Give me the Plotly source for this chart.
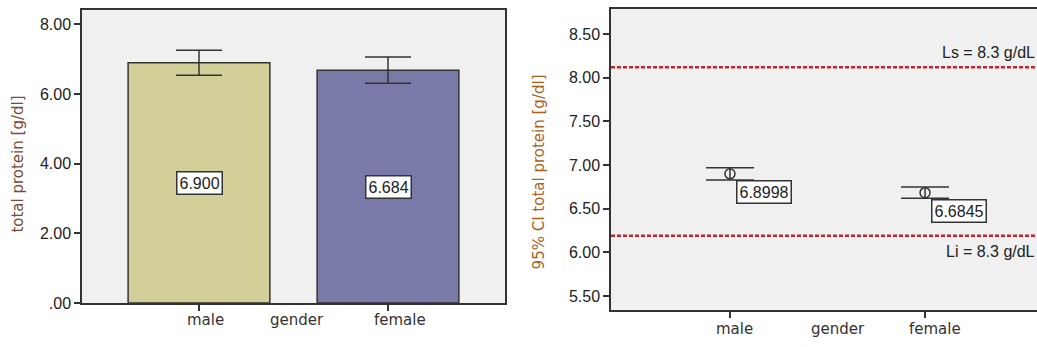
import plotly.graph_objects as go

# ---------------- data ----------------
categories = ["male", "female"]
axis_title_x = "gender"

mean_protein = [6.900, 6.684]
bar_err_low = [6.54, 6.31]
bar_err_high = [7.26, 7.06]
bar_labels = ["6.900", "6.684"]
bar_colors = ["#d3cf98", "#7a7aa8"]

ci_mean = [6.8998, 6.6845]
ci_low = [6.83, 6.62]
ci_high = [6.97, 6.75]
ci_labels = ["6.8998", "6.6845"]

ref_upper = 8.12
ref_lower = 6.19
ref_upper_label = "Ls = 8.3 g/dL"
ref_lower_label = "Li = 8.3 g/dL"

left_yticks = [0, 2, 4, 6, 8]
left_yticktext = [".00", "2.00", "4.00", "6.00", "8.00"]
right_yticks = [5.5, 6.0, 6.5, 7.0, 7.5, 8.0, 8.5]
right_yticktext = ["5.50", "6.00", "6.50", "7.00", "7.50", "8.00", "8.50"]

left_ytitle = "total protein [g/dl]"
right_ytitle = "95% CI total protein [g/dl]"

# ---------------- layout helpers ----------------
W, H = 1037, 347
def px(x):
    return x / W
def py(y):
    return (H - y) / H

AX = "#333333"
TICKFONT = dict(family="Liberation Sans, Arial, sans-serif", size=16, color="#222222")
CATFONT = dict(family="DejaVu Sans, sans-serif", size=15, color="#333333")

fig = go.Figure()

# Left: bar chart with error bars
fig.add_trace(go.Bar(
    x=categories, y=mean_protein, width=0.75,
    marker=dict(color=bar_colors, line=dict(color=AX, width=1.5)),
    error_y=dict(type="data", symmetric=False,
                 array=[h - m for h, m in zip(bar_err_high, mean_protein)],
                 arrayminus=[m - l for m, l in zip(mean_protein, bar_err_low)],
                 color=AX, thickness=1.5, width=23),
    xaxis="x", yaxis="y", showlegend=False, hoverinfo="skip",
))

# Right: mean with 95% CI
fig.add_trace(go.Scatter(
    x=categories, y=ci_mean, mode="markers",
    marker=dict(symbol="circle-open", size=10, color=AX, line=dict(width=1.5, color=AX)),
    error_y=dict(type="data", symmetric=False,
                 array=[h - m for h, m in zip(ci_high, ci_mean)],
                 arrayminus=[m - l for m, l in zip(ci_mean, ci_low)],
                 color=AX, thickness=1.5, width=24),
    xaxis="x2", yaxis="y2", showlegend=False, hoverinfo="skip",
))

annotations = []
# bar value labels
for c, m, t in zip(categories, mean_protein, bar_labels):
    annotations.append(dict(x=c, y=m / 2, xref="x", yref="y", text=t, showarrow=False,
                            font=TICKFONT, bgcolor="white", bordercolor=AX, borderwidth=1.5,
                            borderpad=2))
# CI value labels
for c, m, t in zip(categories, ci_mean, ci_labels):
    annotations.append(dict(x=c, y=m, xref="x2", yref="y2", text=t, showarrow=False,
                            xanchor="left", yanchor="top", xshift=6, yshift=-6,
                            font=TICKFONT, bgcolor="white", bordercolor=AX, borderwidth=1.5,
                            borderpad=2))
# category labels
for c, sh in zip(categories, [6, 12]):
    annotations.append(dict(x=c, xref="x", y=py(329), yref="paper", text=c, showarrow=False,
                            xshift=sh, yanchor="middle", font=CATFONT))
for c, sh in zip(categories, [5, 10]):
    annotations.append(dict(x=c, xref="x2", y=py(338), yref="paper", text=c, showarrow=False,
                            xshift=sh, yanchor="middle", font=CATFONT))
annotations.append(dict(x=0.5, xref="x", y=py(329), yref="paper", text=axis_title_x,
                        showarrow=False, xshift=3, yanchor="middle", font=CATFONT))
annotations.append(dict(x=0.5, xref="x2", y=py(338), yref="paper", text=axis_title_x,
                        showarrow=False, xshift=10, yanchor="middle", font=CATFONT))
# y titles
annotations.append(dict(x=px(18), y=py(169), xref="paper", yref="paper", text=left_ytitle,
                        textangle=-90, showarrow=False, xanchor="center", yanchor="middle",
                        font=dict(family="DejaVu Sans, sans-serif", size=15, color="#7a4a3a")))
annotations.append(dict(x=px(539), y=py(177), xref="paper", yref="paper", text=right_ytitle,
                        textangle=-90, showarrow=False, xanchor="center", yanchor="middle",
                        font=dict(family="DejaVu Sans, sans-serif", size=15, color="#a8641e")))
# reference line labels
annotations.append(dict(x=1.0, xref="paper", y=ref_upper, yref="y2", text=ref_upper_label,
                        showarrow=False, xanchor="right", yanchor="bottom", xshift=0, yshift=4,
                        font=TICKFONT))
annotations.append(dict(x=1.0, xref="paper", y=ref_lower, yref="y2", text=ref_lower_label,
                        showarrow=False, xanchor="right", yanchor="top", xshift=0, yshift=-5,
                        font=TICKFONT))

shapes = []
for v in [ref_upper, ref_lower]:
    shapes.append(dict(type="line", xref="x2 domain", yref="y2", x0=0, x1=1, y0=v, y1=v,
                       line=dict(color="#c0262d", width=2.5, dash="4px,2px")))

fig.update_layout(
    width=W, height=H,
    margin=dict(l=0, r=0, t=0, b=0),
    paper_bgcolor="white", plot_bgcolor="#f0f0f0",
    showlegend=False,
    xaxis=dict(domain=[px(82), px(505)], type="category", range=[-0.619, 1.619],
               showline=True, linecolor=AX, linewidth=1.5, mirror=True,
               ticks="outside", ticklen=6, tickcolor=AX, tickwidth=1.5,
               showticklabels=False, showgrid=False, zeroline=False, fixedrange=True),
    yaxis=dict(domain=[py(311), py(10)], range=[0, 8.42],
               tickvals=left_yticks, ticktext=left_yticktext, tickfont=TICKFONT,
               showline=True, linecolor=AX, linewidth=1.5, mirror=True,
               ticks="outside", ticklen=6, tickcolor=AX, tickwidth=1.5,
               showgrid=False, zeroline=False, fixedrange=True),
    xaxis2=dict(domain=[px(611), 1.0], type="category", range=[-0.610, 1.574], anchor="y2",
                showline=True, linecolor=AX, linewidth=1.5, mirror=True,
                ticks="outside", ticklen=6, tickcolor=AX, tickwidth=1.5,
                showticklabels=False, showgrid=False, zeroline=False, fixedrange=True),
    yaxis2=dict(domain=[py(318), py(9)], range=[5.344, 8.79], anchor="x2",
                tickvals=right_yticks, ticktext=right_yticktext, tickfont=TICKFONT,
                showline=True, linecolor=AX, linewidth=1.5, mirror=False,
                ticks="outside", ticklen=6, tickcolor=AX, tickwidth=1.5,
                showgrid=False, zeroline=False, fixedrange=True),
    annotations=annotations,
    shapes=shapes,
)

post = (
    "var h=document.documentElement.style;h.margin='0';h.padding='0';h.overflow='hidden';h.height='347px';"
    "var b=document.body.style;b.margin='0';b.padding='0';b.overflow='hidden';b.height='347px';"
)
fig.write_html("out.html", config={"displayModeBar": False}, post_script=post)
